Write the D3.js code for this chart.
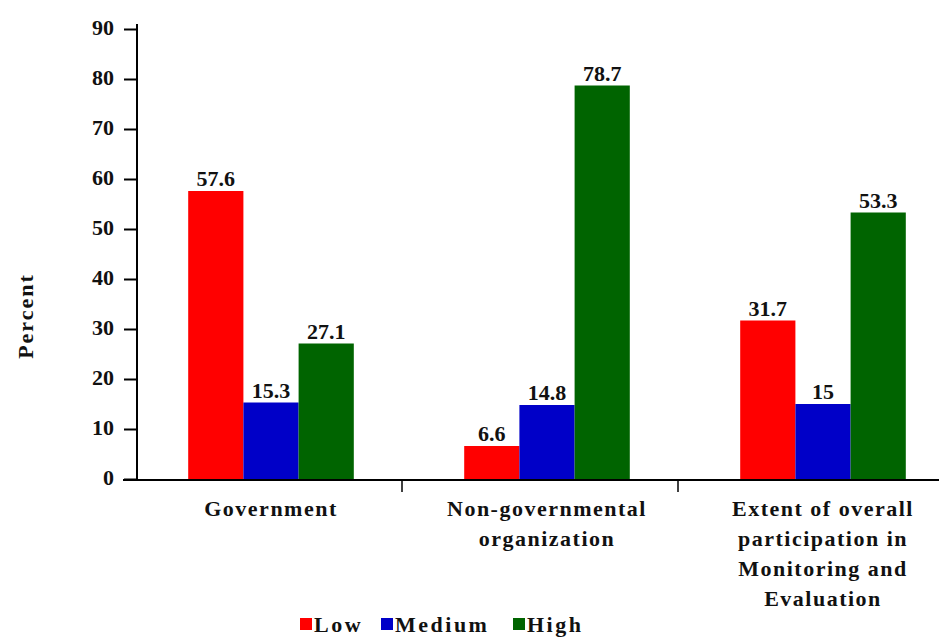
<!DOCTYPE html>
<html><head><meta charset="utf-8">
<script src="https://cdn.jsdelivr.net/npm/d3@7"></script>
<style>body{margin:0;background:#fff}svg{display:block}text{font-family:"Liberation Serif","Times New Roman",serif;font-weight:bold;fill:#111}</style>
</head><body><div id="c"></div>
<script>
const categories = [["Government"],["Non-governmental","organization"],["Extent of overall","participation in","Monitoring and","Evaluation"]];
const seriesNames = ["Low","Medium","High"];
const low = [57.6, 6.6, 31.7];
const medium = [15.3, 14.8, 15];
const high = [27.1, 78.7, 53.3];
const yTicks = [0,10,20,30,40,50,60,70,80,90];
const colors = ["#ff0000","#0000c8","#006400"];

const W=939,H=639;
const svg=d3.select("#c").append("svg").attr("width",W).attr("height",H);
const y=d3.scaleLinear().domain([0,90]).range([479,29]);
const x0=d3.scaleBand().domain(d3.range(categories.length)).range([133,961]);
const bw=x0.bandwidth();
const x1=d3.scaleBand().domain(seriesNames).range([bw*0.2,bw*0.8]);
const series=[low,medium,high];

// y axis
const yAxis=d3.axisLeft(y).tickValues(yTicks).tickSize(13).tickPadding(10);
const ga=svg.append("g").attr("transform","translate(137,0)").call(yAxis);
ga.select(".domain").attr("d","M0,24V480").attr("stroke","#000").attr("stroke-width",2);
ga.selectAll(".tick line").attr("stroke","#000").attr("stroke-width",2);
ga.selectAll(".tick text").style("font-size","22px").attr("dy","0.25em").attr("fill","#222");

// bars
const g=svg.append("g");
categories.forEach((c,i)=>{
  series.forEach((s,j)=>{
    const xx=x0(i)+x1(seriesNames[j]);
    g.append("rect").attr("x",xx).attr("y",y(s[i])).attr("width",x1.bandwidth()).attr("height",y(0)-y(s[i])).attr("fill",colors[j]);
    g.append("text").attr("x",xx+x1.bandwidth()/2).attr("y",y(s[i])-5).attr("text-anchor","middle").style("font-size","22px").text(s[i]);
  });
});

// x axis
svg.append("line").attr("x1",123).attr("x2",939).attr("y1",480).attr("y2",480).attr("stroke","#000").attr("stroke-width",2);
[1,2].forEach(i=>{
  const xx=x0(i)-7;
  svg.append("line").attr("x1",xx).attr("x2",xx).attr("y1",480).attr("y2",492).attr("stroke","#000").attr("stroke-width",1.5);
});
categories.forEach((c,i)=>{
  const t=svg.append("text").attr("text-anchor","middle").style("font-size","22px").style("letter-spacing","1.5px").attr("fill","#222");
  c.forEach((line,k)=>{
    t.append("tspan").attr("x",x0(i)+bw/2).attr("y",516+k*30).text(line);
  });
});

// y title
svg.append("text").attr("transform","translate(33,316) rotate(-90)").attr("text-anchor","middle").style("font-size","22px").style("letter-spacing","2px").attr("fill","#222").text("Percent");

// legend
const legX=[300,381,513];
seriesNames.forEach((n,j)=>{
  svg.append("rect").attr("x",legX[j]).attr("y",618).attr("width",12).attr("height",12).attr("fill",colors[j]);
  svg.append("text").attr("x",legX[j]+14).attr("y",632).style("font-size","22px").style("letter-spacing","2.5px").attr("fill","#222").text(n);
});
</script></body></html>
